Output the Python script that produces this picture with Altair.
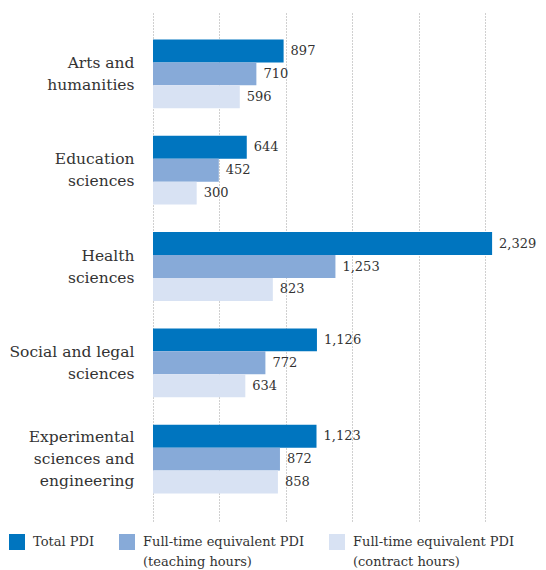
import altair as alt
import pandas as pd

branches = [
    "Arts and|humanities",
    "Education|sciences",
    "Health|sciences",
    "Social and legal|sciences",
    "Experimental|sciences and|engineering",
]
series = [
    "Total PDI",
    "Full-time equivalent PDI|(teaching hours)",
    "Full-time equivalent PDI|(contract hours)",
]
total_pdi = [897, 644, 2329, 1126, 1123]
fte_teaching = [710, 452, 1253, 772, 872]
fte_contract = [596, 300, 823, 634, 858]
grid_values = [0, 228, 456, 684, 912, 1140, 1368, 1596, 1824, 2052, 2280]
colors = ["#0075BF", "#87AAD8", "#D8E2F3"]

rows = []
for i, b in enumerate(branches):
    for s, vals in zip(series, [total_pdi, fte_teaching, fte_contract]):
        rows.append({"branch": b, "series": s, "value": vals[i]})
df = pd.DataFrame(rows)

FONT = "DejaVu Serif"
TXT = "#333333"
LH = 22

y_enc = alt.Y(
    "branch:N",
    sort=branches,
    scale=alt.Scale(paddingInner=0.285, paddingOuter=0.285),
    axis=alt.Axis(
        title=None,
        domain=False,
        ticks=False,
        labelPadding=19,
        labelFont=FONT,
        labelFontSize=15.5,
        labelColor=TXT,
        labelLineHeight=LH,
        labelLimit=0,
        labelExpr="split(datum.label, '|')",
        labelOffset={
            "condition": {
                "test": "length(split(datum.value, '|')) > 2",
                "value": -LH,
            },
            "value": -LH / 2,
        },
    ),
)
yoff = alt.YOffset("series:N", sort=series, scale=alt.Scale(paddingInner=0, paddingOuter=0))
x_enc = alt.X(
    "value:Q",
    scale=alt.Scale(domain=[0, 2500], nice=False),
    axis=alt.Axis(
        title=None,
        values=grid_values,
        labels=False,
        ticks=False,
        domain=False,
        grid=True,
        gridColor="#a0a0a0",
        gridDash=[1, 2],
        gridWidth=1,
    ),
)

bars = alt.Chart(df).mark_bar(strokeWidth=0).encode(
    y=y_enc,
    yOffset=yoff,
    x=x_enc,
    color=alt.Color(
        "series:N",
        sort=series,
        scale=alt.Scale(domain=series, range=colors),
        legend=alt.Legend(
            title=None,
            orient="none",
            direction="horizontal",
            legendX=-144,
            legendY=522,
            symbolType="square",
            symbolSize=256,
            symbolStrokeWidth=0,
            symbolOpacity=1,
            labelFont=FONT,
            labelFontSize=13,
            labelColor=TXT,
            labelOffset=8,
            labelLimit=0,
            labelBaseline="middle",
            columnPadding=24,
            labelExpr="split(datum.label + (indexof(datum.label, '|') < 0 ? '| ' : ''), '|')",
        ),
    ),
)

labels = alt.Chart(df).mark_text(
    align="left", baseline="middle", dx=7, font=FONT, fontSize=13, color=TXT
).encode(
    y=alt.Y("branch:N", sort=branches),
    yOffset=alt.YOffset("series:N", sort=series),
    x=alt.X("value:Q"),
    text=alt.Text("value:Q", format=","),
)

chart = (
    alt.layer(bars, labels)
    .properties(
        width=364,
        height=509,
        background="white",
        autosize=alt.AutoSizeParams(type="none"),
        padding={"left": 145, "top": 4, "right": 21, "bottom": 49},
    )
    .configure(style={"guide-label": {"lineHeight": 20}})
    .configure_view(strokeWidth=0)
)

chart.save("out.html", embed_options={"renderer": "svg", "actions": False})
